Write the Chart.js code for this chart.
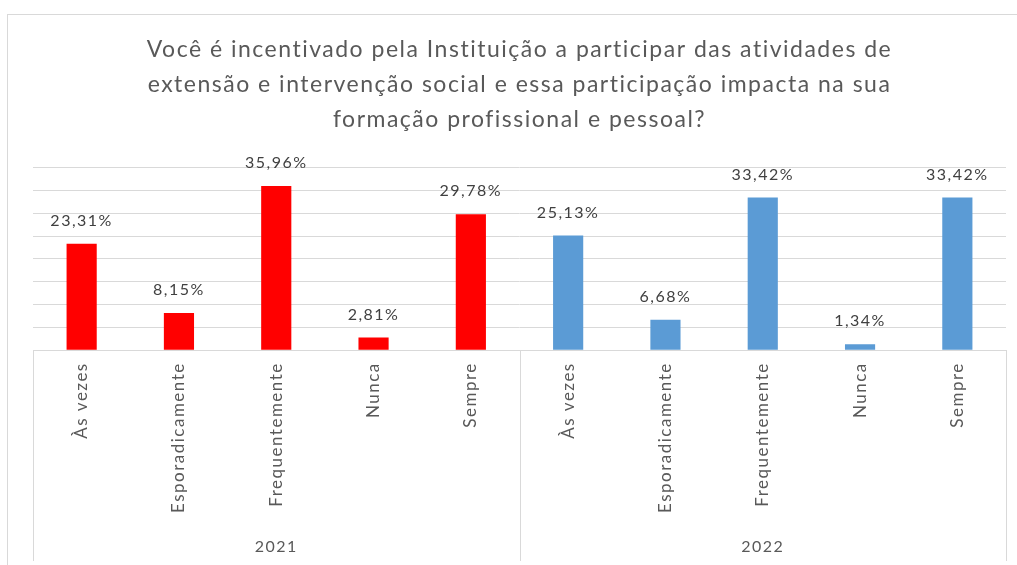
<!DOCTYPE html>
<html>
<head>
<meta charset="utf-8">
<script src="https://cdn.jsdelivr.net/npm/chart.js@4.4.0/dist/chart.umd.min.js"></script>
<style>
  body { margin: 0; background: #fff; }
  #wrap { position: relative; width: 1017px; height: 565px; overflow: hidden; }
  #frame { position: absolute; left: 7px; top: 14px; width: 1100px; height: 600px;
           border-left: 1px solid #d9d9d9; border-top: 1px solid #d9d9d9; }
  canvas { position: absolute; left: 0; top: 0; }
</style>
</head>
<body>
<div id="wrap">
  <div id="frame"></div>
  <canvas id="myChart" width="1017" height="565"></canvas>
</div>
<script>
'use strict';

// data
let categories = ['Às vezes', 'Esporadicamente', 'Frequentemente', 'Nunca', 'Sempre'];
let years = ['2021', '2022'];
let values2021 = [23.31, 8.15, 35.96, 2.81, 29.78];
let values2022 = [25.13, 6.68, 33.42, 1.34, 33.42];
let yTickMax = 40;
let yTickStep = 5;

let titleLines = [
  'Você é incentivado pela Instituição a participar das atividades de',
  'extensão e intervenção social e essa participação impacta na sua',
  'formação profissional e pessoal?'
];

let fontName = 'Lato, "Liberation Sans", sans-serif';
let textColor = '#595959';
let lineColor = '#d9d9d9';
let spacing = '1.5px';

// one label per bar, the year group below
let xLabels = [];
let data2021 = [];
let data2022 = [];
for (let i = 0; i < categories.length; i++) {
  xLabels.push(categories[i]);
  data2021.push(values2021[i]);
  data2022.push(null);
}
for (let i = 0; i < categories.length; i++) {
  xLabels.push(categories[i]);
  data2021.push(null);
  data2022.push(values2022[i]);
}

function formatPct(v) {
  return v.toFixed(2).replace('.', ',') + '%';
}

// the excel text is spaced out a little, do the same for all canvas text
let letterSpacing = {
  id: 'letterSpacing',
  beforeLayout(chart) {
    chart.ctx.letterSpacing = spacing;
  },
  beforeDraw(chart) {
    chart.ctx.letterSpacing = spacing;
  }
};

// value labels above the bars
let valueLabels = {
  id: 'valueLabels',
  afterDatasetsDraw(chart) {
    let ctx = chart.ctx;
    ctx.save();
    ctx.font = '16px ' + fontName;
    ctx.fillStyle = '#404040';
    ctx.textAlign = 'center';
    ctx.textBaseline = 'bottom';
    chart.data.datasets.forEach(function (ds, di) {
      let meta = chart.getDatasetMeta(di);
      meta.data.forEach(function (bar, i) {
        if (ds.data[i] == null) return;
        ctx.fillText(formatPct(ds.data[i]), bar.x, bar.y - 15);
      });
    });
    ctx.restore();
  }
};

// second level of the category axis: year groups with divider lines
let groupAxis = {
  id: 'groupAxis',
  afterDraw(chart) {
    let ctx = chart.ctx;
    let x = chart.scales.x;
    let top = chart.chartArea.bottom;
    let bottom = chart.height - 4;
    let per = categories.length;
    ctx.save();
    ctx.strokeStyle = lineColor;
    ctx.lineWidth = 1;
    let edges = [x.left];
    for (let g = 1; g < years.length; g++) {
      let a = x.getPixelForValue(g * per - 1);
      let b = x.getPixelForValue(g * per);
      edges.push((a + b) / 2);
    }
    edges.push(x.right);
    edges.forEach(function (px) {
      ctx.beginPath();
      ctx.moveTo(Math.round(px) + 0.5, top);
      ctx.lineTo(Math.round(px) + 0.5, bottom);
      ctx.stroke();
    });
    ctx.font = '16px ' + fontName;
    ctx.fillStyle = textColor;
    ctx.textAlign = 'center';
    ctx.textBaseline = 'middle';
    for (let g = 0; g < years.length; g++) {
      ctx.fillText(years[g], (edges[g] + edges[g + 1]) / 2, chart.height - 18);
    }
    ctx.restore();
  }
};

let chartObject = {
  type: 'bar',
  data: {
    labels: xLabels,
    datasets: [{
      label: years[0],
      data: data2021,
      backgroundColor: '#ff0000',
      grouped: false,
      barPercentage: 0.31,
      categoryPercentage: 1
    },
    {
      label: years[1],
      data: data2022,
      backgroundColor: '#5b9bd5',
      grouped: false,
      barPercentage: 0.31,
      categoryPercentage: 1
    }]
  },
  options: {
    responsive: false,
    animation: false,
    layout: {
      padding: { left: 33, right: 11, top: 0, bottom: 40 }
    },
    plugins: {
      legend: { display: false },
      tooltip: { enabled: false },
      title: {
        display: true,
        text: titleLines,
        color: textColor,
        font: { family: fontName, size: 23, weight: 'normal', lineHeight: 1.53 },
        padding: { top: 32, bottom: 30 }
      }
    },
    scales: {
      x: {
        grid: { display: false, drawTicks: false },
        border: { color: lineColor },
        ticks: {
          autoSkip: false,
          minRotation: 90,
          maxRotation: 90,
          padding: 12,
          color: textColor,
          font: { family: fontName, size: 17 }
        }
      },
      y: {
        min: 0,
        max: yTickMax,
        ticks: { display: false, stepSize: yTickStep },
        grid: { color: lineColor, drawTicks: false },
        border: { display: false }
      }
    }
  },
  plugins: [letterSpacing, valueLabels, groupAxis]
};

let ctx = document.getElementById('myChart').getContext('2d');
let myChart = new Chart(ctx, chartObject);
</script>
</body>
</html>
